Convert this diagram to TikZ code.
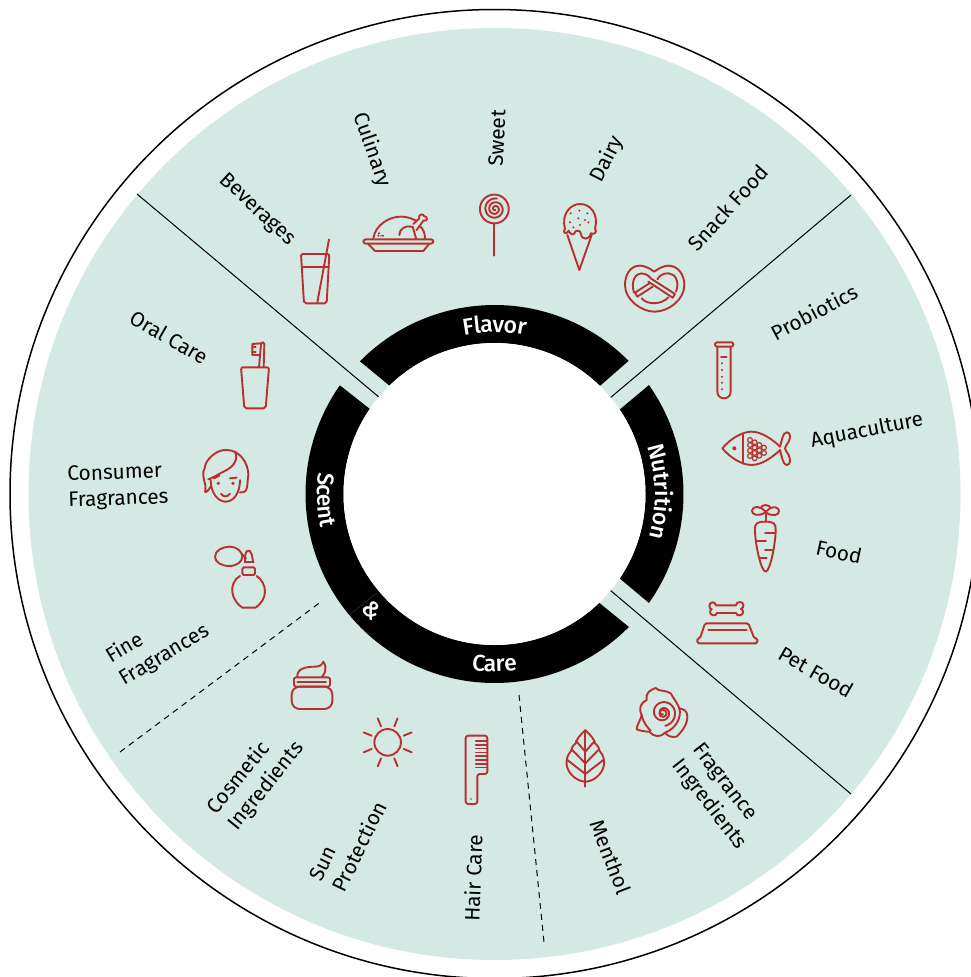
\documentclass[tikz,border=0pt]{standalone}
\usepackage{fontspec}
\setmainfont{Fira Sans}
\newfontfamily\ringface{Fira Sans Medium}
\definecolor{mint}{HTML}{D4E8E4}
\definecolor{iconred}{HTML}{B9312E}
\newcommand{\ringfont}{\ringface\fontsize{23}{25}\selectfont}
% radius, centre angle, sign, total advance (em), letter/advance list
\newcommand{\arcword}[5]{%
  \gdef\wcum{0}%
  \foreach \ltr/\adv in {#5} {%
    \pgfmathsetmacro\wang{#2+#3*(\wcum+\adv/2-#4/2)*21/#1*57.29578}%
    \node[ringletter,rotate=\wang+#3*90] at ({\cx+#1*cos(\wang)},{\cy-#1*sin(\wang)}) {\ltr};%
    \pgfmathsetmacro\wnext{\wcum+\adv}%
    \global\let\wcum\wnext
  }%
}
\tikzset{
  lab/.style={font=\fontsize{20.8}{26}\selectfont,text=black,inner sep=0pt,align=left},
  ringletter/.style={font=\ringfont,text=white,inner sep=0pt,anchor=base},
  divider/.style={draw=black,line width=1pt},
  dashdiv/.style={draw=black,line width=1pt,dash pattern=on 6pt off 5pt},
  icon/.style={draw=iconred,line width=1.9pt,line join=round,line cap=round},
  iconat/.style 2 args={shift={(#1,#2)},x=0.33333pt,y=-0.33333pt,icon},
}
\begin{document}
\begin{tikzpicture}[x=1pt,y=-1pt]
\useasboundingbox (0,0) rectangle (970,977);
\fill[white] (0,0) rectangle (970,977);
\def\cx{494.5}\def\cy{494}
\coordinate (c) at (\cx,\cy);
\draw[black,line width=1.5pt,fill=white] (c) circle[radius=484.5pt];
\fill[mint] (c) circle[radius=466pt];
% dividers
\coordinate (d1a) at (137,194); \coordinate (d1b) at (380,398);
\coordinate (d2a) at (851,195); \coordinate (d2b) at (610,398);
\coordinate (d3a) at (851,794); \coordinate (d3b) at (610,590);
\coordinate (d4a) at (120,752); \coordinate (d4b) at (322,601);
\coordinate (d5a) at (519,695); \coordinate (d5b) at (544,942);
\path[divider] (d1a) -- (d1b) (d2a) -- (d2b) (d3a) -- (d3b);
\path[dashdiv] (d4a) -- (d4b) (d5a) -- (d5b);
% ring
\fill[black] plot[domain=44.8:135.4,samples=60] ({\cx+189*cos(\x)},{\cy-189*sin(\x)}) -- plot[domain=134.1:45.7,samples=60] ({\cx+151*cos(\x)},{\cy-151*sin(\x)}) -- cycle;
\fill[black] plot[domain=35.2:-35.2,samples=60] ({\cx+189*cos(\x)},{\cy-189*sin(\x)}) -- plot[domain=-34:34,samples=60] ({\cx+151*cos(\x)},{\cy-151*sin(\x)}) -- cycle;
\fill[black] plot[domain=144.9:315.3,samples=120] ({\cx+189*cos(\x)},{\cy-189*sin(\x)}) -- plot[domain=313.9:145.7,samples=120] ({\cx+151*cos(\x)},{\cy-151*sin(\x)}) -- cycle;
\draw[black!75,line width=.4pt] (350,614.3) -- (377.3,592.7);
\fill[white] (c) circle[radius=151pt];
% ring texts
\arcword{161.5}{90}{-1}{2.95}{F/.54,l/.29,a/.56,v/.52,o/.60,r/.44}
\arcword{160.5}{0}{-1}{4.62}{N/.72,u/.61,t/.40,r/.44,i/.30,t/.40,i/.30,o/.62,n/.61}
\arcword{177.5}{270}{1}{2.15}{C/.58,a/.56,r/.44,e/.57}
\arcword{177}{182.3}{1}{2.68}{S/.56,c/.49,e/.57,n/.61,t/.39}
\node[ringletter,rotate=313.6] (amp) at ({\cx+177*cos(223.6)},{\cy-177*sin(223.6)}) {\&};
% labels
\node[lab,rotate=-43] (beverages) at (257,210) {Beverages};
\node[lab,rotate=-71] (culinary) at (372,150) {Culinary};
\node[lab,rotate=87] (sweet) at (497,138) {Sweet};
\node[lab,rotate=63] (dairy) at (607,159) {Dairy};
\node[lab,rotate=48] (snack) at (728,208) {Snack Food};
\node[lab,rotate=28] (probiotics) at (814,312) {Probiotics};
\node[lab,rotate=11] (aqua) at (867,431) {Aquaculture};
\node[lab,rotate=-12] (food) at (839,552) {Food};
\node[lab,rotate=-30] (pet) at (816,672) {Pet Food};
\node[lab,rotate=-52] (fragrance) at (719,797) {Fragrance\\Ingredients};
\node[lab,rotate=-69] (menthol) at (611,857) {Menthol};
\node[lab,rotate=88] (hair) at (473,878) {Hair Care};
\node[lab,rotate=64] (sun) at (348,841) {Sun\\Protection};
\node[lab,rotate=51] (cosmetic) at (256,778) {Cosmetic\\Ingredients};
\node[lab,rotate=31] (fine) at (158,644) {Fine\\Fragrances};
\node[lab,rotate=2] (consumer) at (118,487) {Consumer\\Fragrances};
\node[lab,rotate=-30] (oral) at (169,337) {Oral Care};
% icons, row 1
\begin{scope}[iconat={280}{170}]
  % glass
  \draw[rounded corners=2pt] (63,252) -- (148,252) -- (140,400) -- (72,400) -- cycle;
  \draw (65,292) -- (146,292);
  \draw (147,208) -- (112,397);
  % turkey
  \draw[rounded corners=2.5pt] (250,208) -- (460,208) -- (460,221) -- (250,221) -- cycle;
  \draw (265,222) -- (285,243) -- (430,243) -- (447,222);
  \draw (280,205) .. controls (285,165) and (330,138) .. (365,140) .. controls (380,140) and (395,145) .. (408,152);
  \draw (420,168) .. controls (430,178) and (435,190) .. (435,205);
  \draw (358,195) .. controls (358,178) and (375,165) .. (395,170);
  \draw (400,162) -- (418,145) .. controls (412,135) and (430,128) .. (432,138) .. controls (445,140) and (443,155) .. (430,152) -- (410,180);
  \draw (398,170) -- (408,205);
  \fill[iconred] (297,190) circle[radius=1.1pt] (295,197) circle[radius=1.1pt] (309,197) circle[radius=1.1pt] (303,197) circle[radius=.9pt];
  % lollipop
  \draw (643,117) circle[radius=14.4pt];
  \draw plot[domain=70:1000,samples=100] ({645+\x*0.032*cos(\x)},{117+\x*0.032*sin(\x)});
  \draw (642,160) -- (642,257);
  % ice cream
  \draw (855,176) .. controls (843,130) and (873,102) .. (900,102) .. controls (930,102) and (957,130) .. (945,176) .. controls (952,185) and (945,195) .. (932,190) .. controls (930,210) and (905,212) .. (903,192) .. controls (903,180) and (885,178) .. (883,190) .. controls (880,198) and (868,190) .. (866,182) .. controls (860,195) and (845,190) .. (855,176) -- cycle;
  \draw (862,195) -- (898,300) -- (935,195);
  \foreach \p in {(872,130),(898,122),(922,130),(895,145),(870,157),(925,157),(900,165),(880,172),(915,150)}
    \fill[iconred] \p circle[radius=1.1pt];
  % pretzel
  \draw (1123,305) .. controls (1105,292) and (1090,287) .. (1080,287) .. controls (1050,287) and (1035,315) .. (1035,345) .. controls (1035,390) and (1085,425) .. (1123,425) .. controls (1165,425) and (1213,390) .. (1213,345) .. controls (1213,315) and (1195,287) .. (1165,287) .. controls (1155,287) and (1140,292) .. (1123,305) -- cycle;
  \draw (1062,368) .. controls (1052,335) and (1065,310) .. (1085,310) .. controls (1095,310) and (1105,315) .. (1112,325);
  \draw (1188,365) .. controls (1200,335) and (1185,310) .. (1165,310) .. controls (1150,310) and (1140,315) .. (1132,328);
  \draw (1112,325) -- (1185,372) -- (1178,383) -- (1105,335);
  \draw (1108,340) -- (1065,368) -- (1072,380) -- (1118,350);
  \draw (1085,385) .. controls (1100,405) and (1145,405) .. (1165,382);
\end{scope}
% icons, right column
\begin{scope}[iconat={690}{330}]
  \draw[rounded corners=2pt] (75,37) -- (130,37) -- (130,50) -- (75,50) -- cycle;
  \draw (82,50) -- (82,185) .. controls (82,198) and (92,205) .. (102,205) .. controls (112,205) and (122,198) .. (122,185) -- (122,50);
  \draw (93,80) -- (110,80);
  \foreach \y in {100,120,140,158,178} \fill[iconred] (96,\y) circle[radius=1.1pt];
  % fish
  \draw (97,355) .. controls (125,322) and (160,305) .. (185,305) .. controls (215,305) and (250,330) .. (270,350) .. controls (275,335) and (278,307) .. (290,307) .. controls (302,307) and (302,322) .. (296,335) .. controls (290,345) and (285,350) .. (285,355) .. controls (285,360) and (290,365) .. (296,375) .. controls (302,388) and (302,405) .. (290,405) .. controls (278,405) and (275,375) .. (270,360) .. controls (250,380) and (215,405) .. (185,405) .. controls (160,405) and (125,388) .. (97,355) -- cycle;
  \draw (160,312) -- (160,400);
  \fill[iconred] (133,355) circle[radius=2pt];
  \foreach \p in {(180,330),(180,345),(180,362),(180,378),(194,337),(194,353),(194,369),(194,385),(208,345),(208,361),(208,377),(222,353),(222,369)}
    \draw[line width=1.2pt] \p circle[radius=2.4pt];
  % carrot
  \draw (195,600) .. controls (193,578) and (205,575) .. (227,575) .. controls (250,575) and (258,580) .. (257,600) .. controls (257,640) and (240,725) .. (227,725) .. controls (213,725) and (195,640) .. (195,600) -- cycle;
  \draw (225,608) -- (255,608) (198,634) -- (228,634) (225,660) -- (248,660) (210,685) -- (230,685);
  \draw (227,575) -- (227,545);
  \draw (225,548) .. controls (205,560) and (185,555) .. (186,542) .. controls (187,530) and (205,528) .. (212,535) .. controls (213,522) and (240,522) .. (242,535) .. controls (250,528) and (267,532) .. (267,543) .. controls (267,557) and (247,560) .. (229,548);
  \draw (227,545) -- (215,535) (227,545) -- (240,535);
  % bowl
  \draw (78,826) .. controls (75,812) and (58,815) .. (58,828) .. controls (58,835) and (62,837) .. (65,837) .. controls (58,840) and (58,855) .. (70,856) .. controls (78,857) and (80,852) .. (80,849) -- (138,849) .. controls (138,855) and (145,857) .. (150,856) .. controls (160,855) and (163,840) .. (153,837) .. controls (163,835) and (163,815) .. (150,816) .. controls (143,816) and (138,820) .. (138,826) -- cycle;
  \draw[rounded corners=1.5pt] (45,880) -- (175,880) -- (193,925) -- (202,925) -- (202,940) -- (22,940) -- (22,925) -- (30,925) -- cycle;
  \draw (55,900) -- (170,900);
\end{scope}
% icons, left column
\begin{scope}[iconat={190}{330}]
  \draw[rounded corners=2pt] (153,112) -- (237,112) -- (227,235) -- (163,235) -- cycle;
  \draw (207,112) -- (213,42) .. controls (214,35) and (223,35) .. (223,42) -- (221,112);
  \draw (211,40) -- (187,42) -- (187,75) -- (208,75);
  \draw (187,52) -- (197,52) (187,65) -- (197,65);
  % face
  \draw (62,450) .. controls (62,490) and (85,515) .. (107,515) .. controls (130,515) and (150,490) .. (150,450);
  \draw (62,470) .. controls (50,490) and (42,490) .. (46,480) .. controls (50,465) and (38,450) .. (40,425) .. controls (42,415) and (48,410) .. (46,405) .. controls (55,380) and (85,358) .. (110,360) .. controls (150,360) and (175,400) .. (175,435) .. controls (170,460) and (178,490) .. (150,487);
  \draw (135,365) .. controls (145,385) and (135,410) .. (100,425) .. controls (85,433) and (65,445) .. (55,448);
  \fill[iconred] (85,460) circle[radius=1.8pt] (129,460) circle[radius=1.8pt];
  \draw (120,445) -- (140,443) (72,445) -- (88,437);
  \draw (93,491) .. controls (100,502) and (112,502) .. (120,491);
  % perfume
  \draw (75,680) .. controls (75,660) and (100,650) .. (120,650) .. controls (140,650) and (157,665) .. (157,680) .. controls (157,695) and (140,708) .. (118,708) .. controls (95,708) and (75,697) .. (75,680) -- cycle;
  \draw (155,672) -- (168,685);
  \draw (165,697) -- (165,680) .. controls (163,672) and (170,672) .. (168,668) .. controls (170,660) and (182,660) .. (182,668) .. controls (182,672) and (190,675) .. (187,682) -- (190,697);
  \draw (165,697) -- (190,697);
  \draw[rounded corners=1.5pt] (157,735) -- (157,712) -- (195,712) -- (195,735) -- cycle;
  \draw (150,738) .. controls (130,750) and (125,770) .. (127,785) .. controls (130,810) and (145,825) .. (157,833) -- (197,833) .. controls (212,822) and (225,805) .. (225,785) .. controls (225,765) and (215,748) .. (200,738);
\end{scope}
% icons, bottom row
\begin{scope}[iconat={280}{660}]
  \draw[rounded corners=2pt] (42,52) -- (150,52) -- (150,80) -- (42,80) -- cycle;
  \draw (52,65) -- (138,65);
  \draw[rounded corners=8pt] (35,80) -- (157,80) -- (157,147) -- (35,147) -- cycle;
  \draw (52,50) .. controls (50,25) and (80,20) .. (105,20) .. controls (120,20) and (125,15) .. (130,5) .. controls (145,25) and (130,50) .. (125,50);
  % sun
  \draw (323,247) circle[radius=13.3pt];
  \foreach \a in {22.5,67.5,...,337.5}
    \draw ({323+52*cos(\a)},{247+52*sin(\a)}) -- ({323+78*cos(\a)},{247+78*sin(\a)});
  % comb
  \draw[rounded corners=2.5pt] (557,227) -- (622,227) -- (622,342) -- (592,342) -- (592,432) -- (557,432) -- cycle;
  \foreach \y in {243,255,265,277,288,300,312,323} \draw[line width=1.4pt] (587,\y) -- (620,\y);
  \fill[iconred] (573,417) circle[radius=.9pt];
  % leaf
  \draw (916,210) .. controls (900,225) and (888,240) .. (887,250) .. controls (878,258) and (873,265) .. (873,273) .. controls (862,285) and (858,300) .. (860,315) .. controls (865,345) and (895,365) .. (916,365) .. controls (937,365) and (967,345) .. (972,315) .. controls (974,300) and (970,285) .. (959,273) .. controls (959,265) and (954,258) .. (945,250) .. controls (944,240) and (932,225) .. (916,210) -- cycle;
  \draw (916,212) -- (916,380);
  \draw (888,243) -- (916,275) -- (944,243) (875,268) -- (916,310) -- (957,268) (862,300) -- (916,342) -- (970,300);
  % rose
  \draw plot[domain=90:800,samples=90] ({1149+\x*0.05*cos(\x)},{158+\x*0.05*sin(\x)});
  \draw (1149,160) circle[radius=3.6pt];
  \draw (1100,120) .. controls (1095,100) and (1110,90) .. (1127,84) .. controls (1135,95) and (1160,90) .. (1172,100) .. controls (1180,115) and (1190,125) .. (1198,145) .. controls (1210,148) and (1222,150) .. (1222,170) .. controls (1222,195) and (1205,215) .. (1190,230) .. controls (1175,232) and (1165,230) .. (1155,218) .. controls (1145,232) and (1120,232) .. (1108,215) .. controls (1095,215) and (1080,212) .. (1070,208) .. controls (1070,195) and (1082,180) .. (1085,165) .. controls (1075,145) and (1082,128) .. (1100,120);
  \draw (1085,165) .. controls (1090,190) and (1105,205) .. (1112,212);
  \draw (1198,145) .. controls (1205,170) and (1190,205) .. (1155,218);
\end{scope}
\end{tikzpicture}
\end{document}
